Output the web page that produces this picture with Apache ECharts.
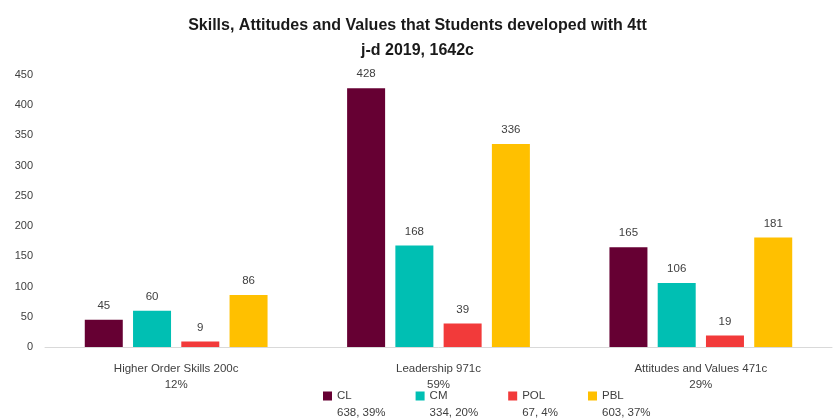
<!DOCTYPE html>
<html>
<head>
<meta charset="utf-8">
<script src="https://cdn.jsdelivr.net/npm/echarts@6/dist/echarts.min.js"></script>
<style>
  html, body { margin: 0; padding: 0; background: #fff; }
  #chart { width: 835px; height: 419px; }
</style>
</head>
<body>
<div id="chart"></div>
<script>
const categories = ['Higher Order Skills 200c\n12%', 'Leadership 971c\n59%', 'Attitudes and Values 471c\n29%'];
const seriesNames = ['CL', 'CM', 'POL', 'PBL'];
const totals = ['638, 39%', '334, 20%', '67, 4%', '603, 37%'];
const clValues = [45, 428, 165];
const cmValues = [60, 168, 106];
const polValues = [9, 39, 19];
const pblValues = [86, 336, 181];
const colors = ['#660033', '#00BFB3', '#F23A3A', '#FFC000'];

const chart = echarts.init(document.getElementById('chart'));
const font = 'Liberation Sans, sans-serif';

const allValues = [clValues, cmValues, polValues, pblValues];

chart.setOption({
  animation: false,
  color: colors,
  textStyle: { fontFamily: font },
  title: {
    text: 'Skills, Attitudes and Values that Students developed with 4tt\nj-d 2019, 1642c',
    left: 'center',
    top: 8,
    textStyle: { fontSize: 16, fontWeight: 'bold', color: '#1a1a1a', lineHeight: 25, fontFamily: font }
  },
  legend: {
    left: 318,
    top: 382,
    itemWidth: 9,
    itemHeight: 34,
    itemGap: 30,
    // square in the upper part so it lines up with the first text line
    icon: 'path://M0,0L0.01,0Z M0,3L10,3L10,13L0,13Z M0,34L0.01,34Z',
    formatter: function (name) {
      return name + '\n' + totals[seriesNames.indexOf(name)];
    },
    textStyle: { fontSize: 11.5, color: '#404040', lineHeight: 17 }
  },
  grid: { left: 45, right: 3, top: 75, bottom: 72 },
  xAxis: {
    type: 'category',
    data: categories,
    axisLine: { lineStyle: { color: '#d9d9d9' } },
    axisTick: { show: false },
    axisLabel: { color: '#404040', fontSize: 11.5, lineHeight: 16, margin: 14 }
  },
  yAxis: {
    type: 'value',
    min: 0,
    max: 450,
    interval: 50,
    splitLine: { show: false },
    axisLine: { show: false },
    axisLabel: { color: '#404040', fontSize: 11, margin: 12 }
  },
  series: seriesNames.map((name, i) => ({
    name: name,
    type: 'bar',
    data: allValues[i],
    barWidth: 38,
    barGap: '27%',
    label: { show: true, position: 'top', distance: 8, color: '#404040', fontSize: 11.5 }
  }))
});
</script>
</body>
</html>
